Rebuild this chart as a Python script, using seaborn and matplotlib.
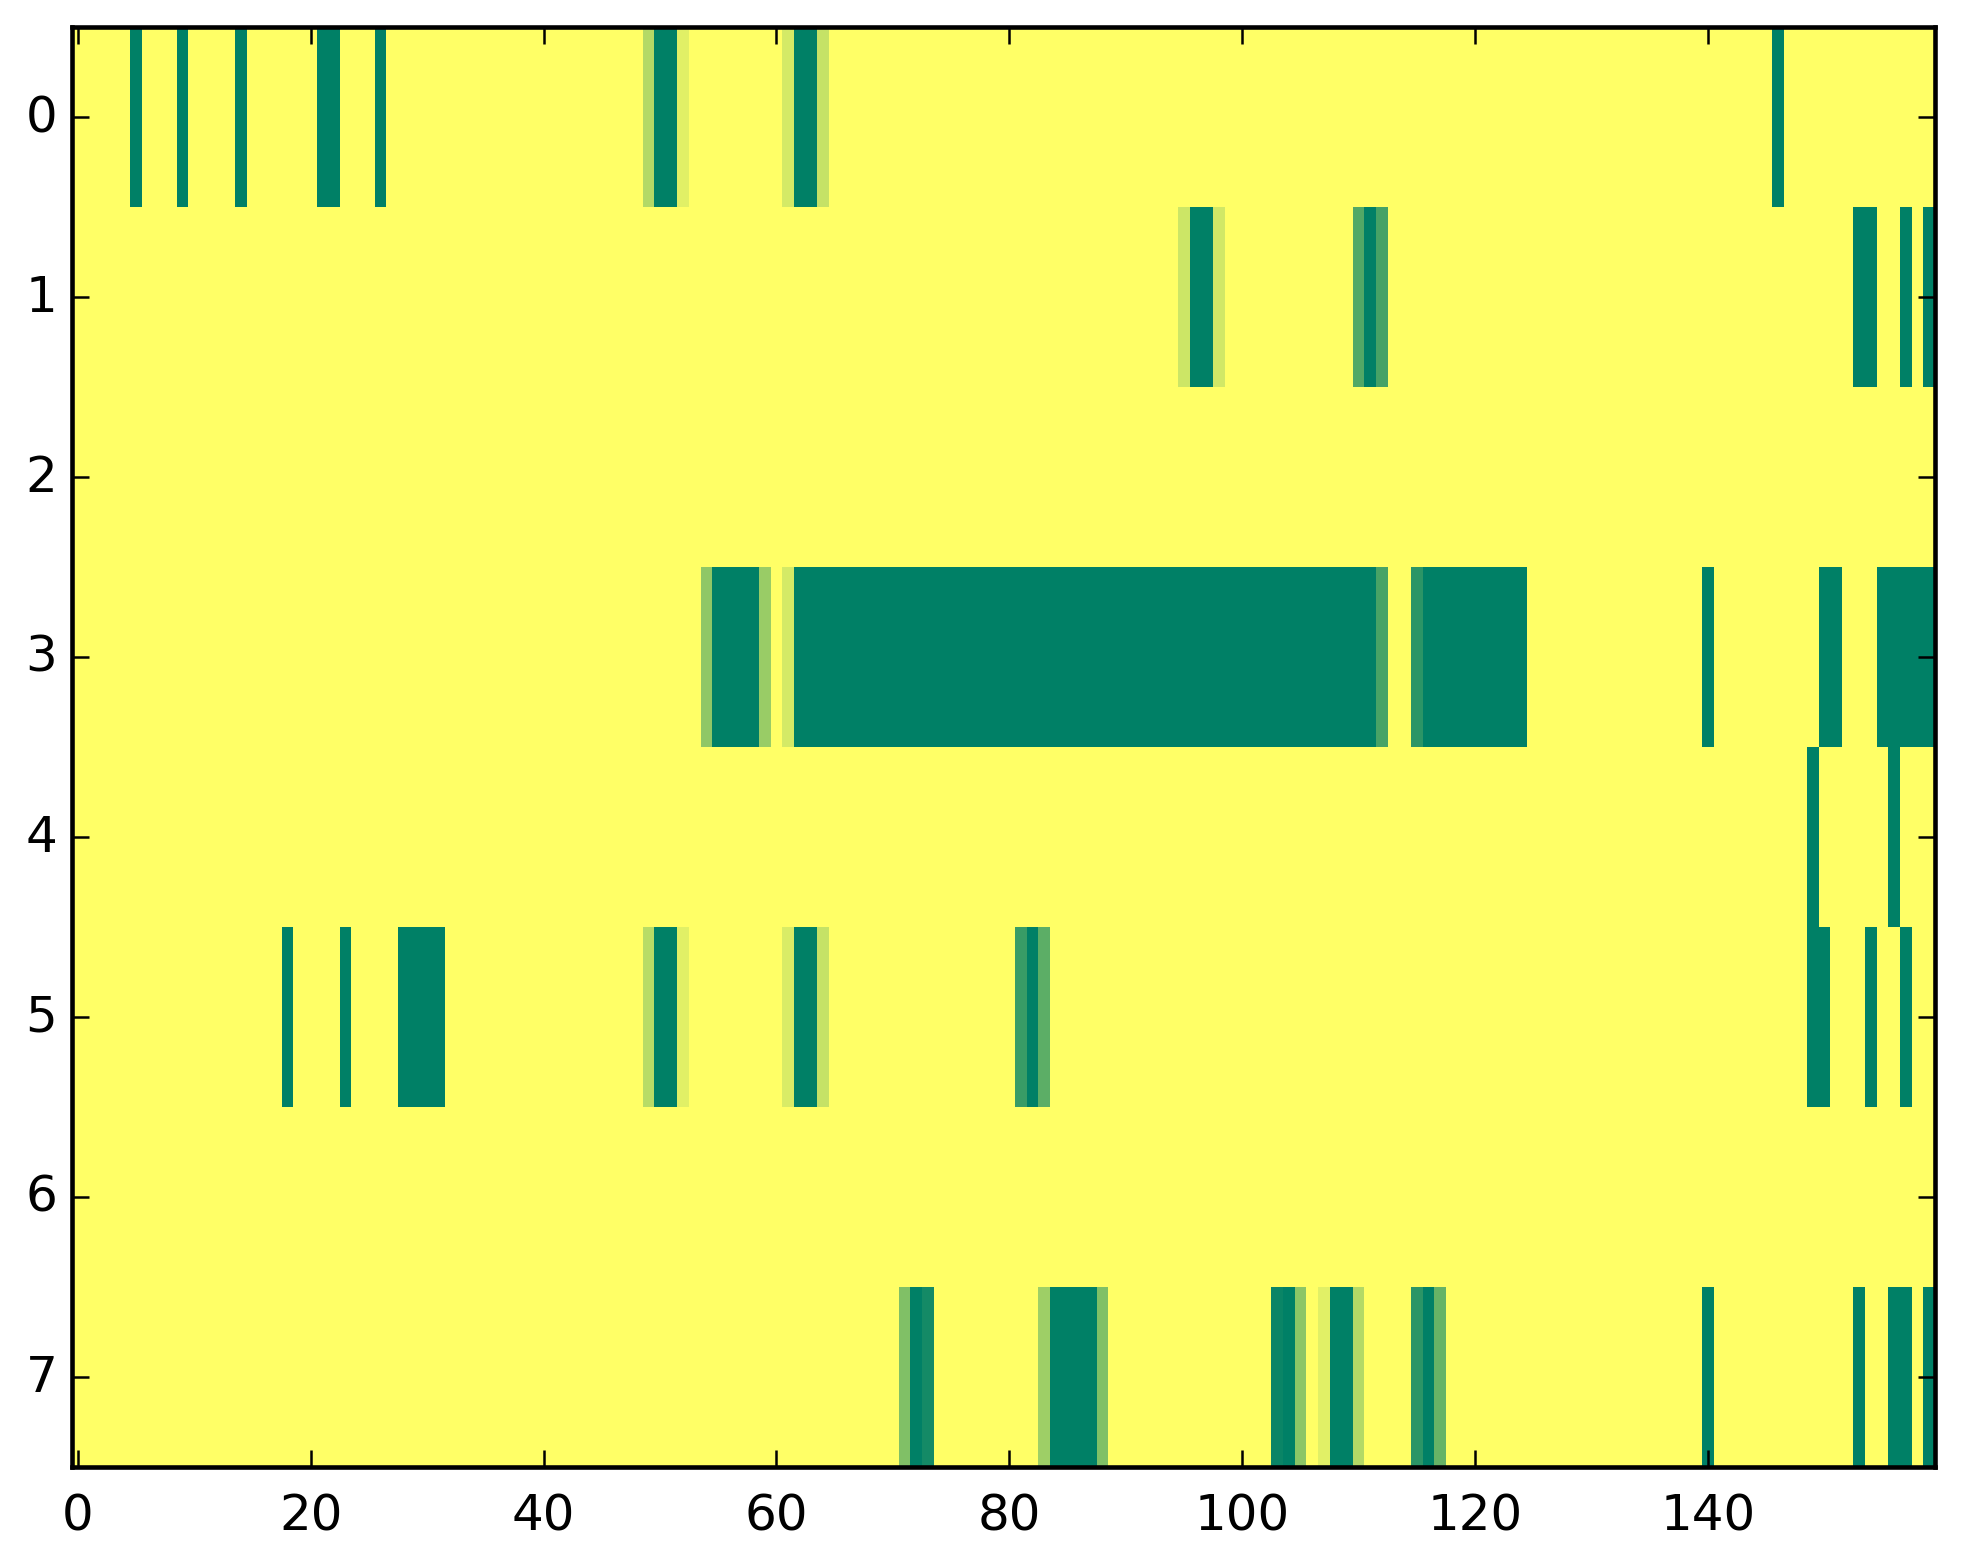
import numpy as np
import matplotlib
matplotlib.use("Agg")
import matplotlib.pyplot as plt
import seaborn as sns

n_cols = 160
n_rows = 8

# non-background cells per row: (first col, last col, value); everything else is 1.0
row0 = [(5, 5, 0), (9, 9, 0), (14, 14, 0), (21, 22, 0), (26, 26, 0),
        (49, 49, 0.70), (50, 51, 0), (52, 52, 0.88), (61, 61, 0.83),
        (62, 63, 0), (64, 64, 0.77), (146, 146, 0)]
row1 = [(95, 95, 0.80), (96, 97, 0), (98, 98, 0.82), (110, 110, 0.32),
        (111, 111, 0), (112, 112, 0.27), (153, 154, 0), (157, 157, 0),
        (159, 159, 0)]
row2 = []
row3 = [(54, 54, 0.56), (55, 58, 0), (59, 59, 0.60), (61, 61, 0.83),
        (62, 111, 0), (112, 112, 0.28), (115, 115, 0.17), (116, 124, 0),
        (140, 140, 0), (150, 151, 0), (155, 159, 0)]
row4 = [(149, 149, 0), (156, 156, 0)]
row5 = [(18, 18, 0), (23, 23, 0), (28, 31, 0), (49, 49, 0.72), (50, 51, 0),
        (52, 52, 0.88), (61, 61, 0.85), (62, 63, 0), (64, 64, 0.77),
        (81, 81, 0.22), (82, 82, 0), (83, 83, 0.36), (149, 150, 0),
        (154, 154, 0), (157, 157, 0)]
row6 = []
row7 = [(71, 71, 0.50), (72, 72, 0), (73, 73, 0.08), (83, 83, 0.62),
        (84, 87, 0), (88, 88, 0.50), (103, 103, 0.04), (104, 104, 0),
        (105, 105, 0.55), (107, 107, 0.88), (108, 109, 0), (110, 110, 0.70),
        (115, 115, 0.17), (116, 116, 0), (117, 117, 0.40), (140, 140, 0),
        (153, 153, 0), (156, 157, 0), (159, 159, 0)]

rows = [row0, row1, row2, row3, row4, row5, row6, row7]

x_ticks = [0, 20, 40, 60, 80, 100, 120, 140]
y_ticks = [0, 1, 2, 3, 4, 5, 6, 7]


def build_matrix():
    m = np.ones((n_rows, n_cols))
    for r, runs in enumerate(rows):
        for a, b, v in runs:
            m[r, a:b + 1] = v
    return m


def main():
    sns.set_style("white")
    plt.rcParams['font.family'] = ['DejaVu Sans']
    plt.rcParams['font.size'] = 12
    plt.rcParams['text.color'] = 'black'
    plt.rcParams['xtick.color'] = 'black'
    plt.rcParams['ytick.color'] = 'black'

    fig = plt.figure(figsize=(1963 / 300, 1564 / 300), dpi=300)
    ax = fig.add_axes([72 / 1963, 1 - 1468 / 1564, (1935 - 72) / 1963, 1440 / 1564])

    data = build_matrix()
    sns.heatmap(data, cmap="summer", vmin=0, vmax=1, cbar=False, ax=ax)
    ax.set_axisbelow(False)

    for s in ax.spines.values():
        s.set_visible(True)
        s.set_color("black")
        s.set_linewidth(1.1)
        s.set_zorder(5)

    ax.set_xticks([t + 0.5 for t in x_ticks])
    ax.set_xticklabels([str(t) for t in x_ticks], rotation=0)
    ax.set_yticks([t + 0.5 for t in y_ticks])
    ax.set_yticklabels([str(t) for t in y_ticks], rotation=0)
    ax.tick_params(direction="in", top=True, right=True, bottom=True, left=True,
                   length=4, width=0.6, labelsize=12, color="black",
                   labelcolor="black")
    ax.tick_params(axis="x", pad=6)
    ax.tick_params(axis="y", pad=3.5)

    fig.savefig("out.png", dpi=300)


if __name__ == "__main__":
    main()
